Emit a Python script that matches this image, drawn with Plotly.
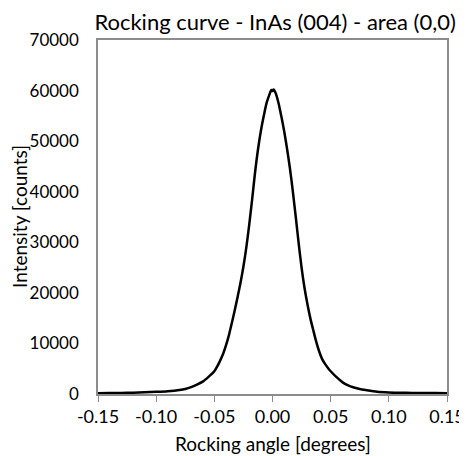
import plotly.graph_objects as go

# Rocking curve data
angle_deg = [-0.150, -0.140, -0.130, -0.120, -0.110, -0.100, -0.090, -0.080, -0.075,
             -0.070, -0.065, -0.060, -0.055, -0.050, -0.0475, -0.045, -0.0425, -0.040,
             -0.0375, -0.035, -0.0325, -0.030, -0.0275, -0.025, -0.0225, -0.020,
             -0.0175, -0.015, -0.0125, -0.010, -0.0075, -0.005, -0.0025, -0.001, 0.000,
             0.001, 0.0025, 0.005, 0.0075, 0.010, 0.0125, 0.015, 0.0175, 0.020, 0.0225,
             0.025, 0.0275, 0.030, 0.0325, 0.035, 0.0375, 0.040, 0.0425, 0.045, 0.0475,
             0.050, 0.055, 0.060, 0.065, 0.070, 0.075, 0.080, 0.090, 0.100, 0.110,
             0.120, 0.130, 0.140, 0.150]
intensity = [150, 180, 220, 270, 330, 430, 560, 800, 1000,
             1350, 1850, 2450, 3400, 4500, 5450, 6600, 7900, 9600,
             11600, 14000, 16500, 19200, 22000, 25200, 29000, 33500,
             38500, 43800, 48300, 52000, 55000, 57600, 59300, 60100, 59900,
             60200, 59600, 57700, 55000, 52000, 48500, 44600, 40000, 35000, 29800,
             25000, 21000, 17800, 15000, 12650, 10400, 8500, 7000, 6000, 5200,
             4500, 3350, 2350, 1700, 1300, 1000, 800, 460, 320, 260,
             220, 200, 180, 160]

x_ticks = [-0.15, -0.10, -0.05, 0.00, 0.05, 0.10, 0.15]
x_tick_labels = ["-0.15", "-0.10", "-0.05", "0.00", "0.05", "0.10", "0.15"]
y_ticks = [0, 10000, 20000, 30000, 40000, 50000, 60000, 70000]

FONT = "Lato, 'Open Sans', sans-serif"
GREY = "#8c8c8c"

fig = go.Figure()
fig.add_trace(go.Scatter(
    x=angle_deg, y=intensity,
    mode="lines",
    line=dict(color="black", width=2.5, shape="spline", smoothing=0.8),
    showlegend=False,
))

# the page body has an 8px margin, so margins are shifted by 8px to compensate
fig.update_layout(
    width=467, height=456,
    margin=dict(l=90, r=28, t=32, b=70),
    paper_bgcolor="white", plot_bgcolor="white",
    font=dict(family=FONT, color="black", size=18),
    title=dict(text="Rocking curve - InAs (004) - area (0,0)",
               x=0.572, xanchor="center", y=0.968, yanchor="middle",
               font=dict(size=22)),
)
fig.update_xaxes(
    range=[-0.15, 0.15], automargin=False,
    tickvals=x_ticks, ticktext=x_tick_labels,
    showgrid=False, zeroline=False,
    showline=True, mirror=True, linecolor=GREY, linewidth=1.5,
    ticks="outside", ticklen=6, tickcolor=GREY,
)
fig.update_yaxes(
    range=[0, 70000], automargin=False,
    tickvals=y_ticks, tickformat="d", tickfont=dict(size=17),
    showgrid=False, zeroline=False,
    showline=True, mirror=True, linecolor=GREY, linewidth=1.5,
    ticks="outside", ticklen=14, tickcolor="rgba(0,0,0,0)",
)

# axis titles as annotations so they sit exactly where the reference has them
fig.add_annotation(text="Rocking angle [degrees]", xref="paper", yref="paper",
                   x=0.5, y=0, xanchor="center", yanchor="middle", yshift=-49,
                   showarrow=False, font=dict(size=19))
fig.add_annotation(text="Intensity [counts]", xref="paper", yref="paper",
                   x=0, y=0.5, xanchor="center", yanchor="middle", xshift=-79,
                   textangle=-90, showarrow=False, font=dict(size=19))

fig.write_html("out.html")
